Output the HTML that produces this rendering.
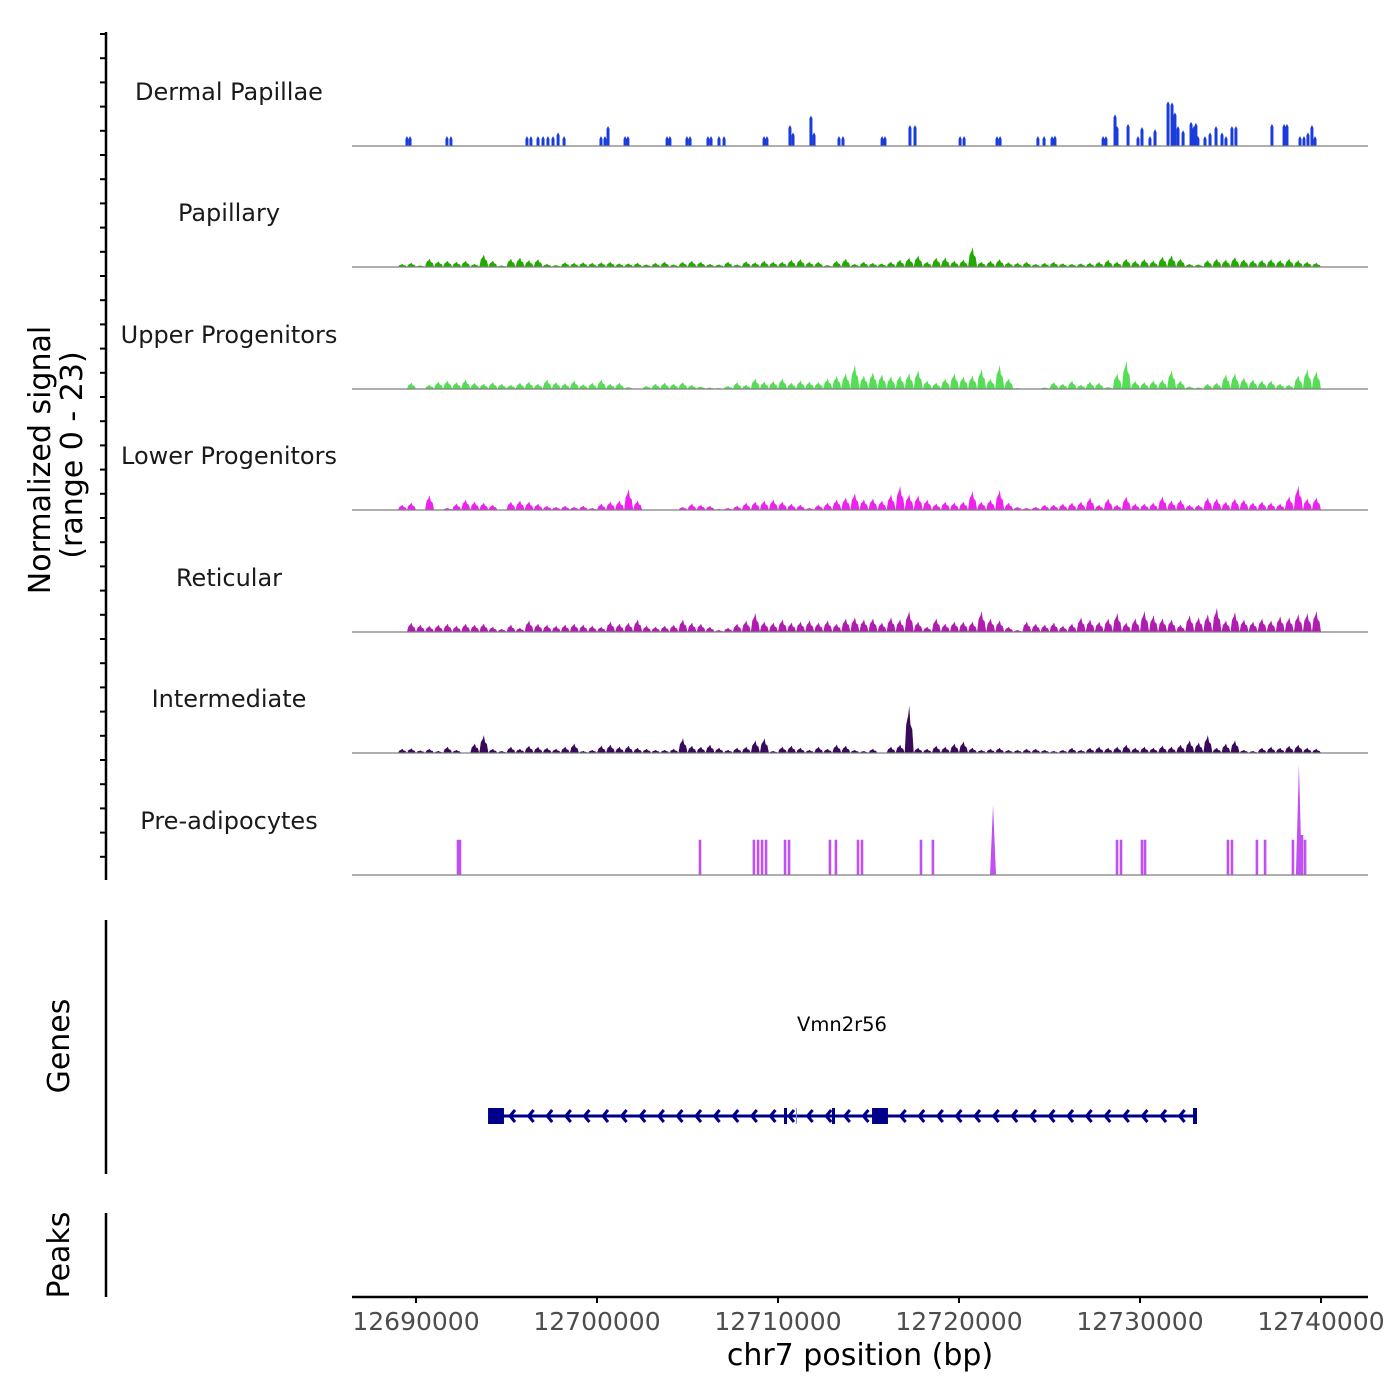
<!DOCTYPE html>
<html><head><meta charset="utf-8"><style>
html,body{margin:0;padding:0;background:#fff;}
svg{display:block;font-family:"DejaVu Sans","Liberation Sans",sans-serif;}
</style></head><body>
<svg id="chart" width="1400" height="1400" viewBox="0 0 1400 1400" xmlns="http://www.w3.org/2000/svg">
<rect width="1400" height="1400" fill="#fff"/>
<g id="tracks"></g>
<g id="leftaxis"></g>
<text transform="translate(50,460) rotate(-90)" text-anchor="middle" font-size="30" fill="#000">Normalized signal</text>
<text transform="translate(82,455) rotate(-90)" text-anchor="middle" font-size="30" fill="#000">(range 0 - 23)</text>
<line x1="106" y1="920" x2="106" y2="1174" stroke="#000" stroke-width="2.5"/>
<text transform="translate(69,1046) rotate(-90)" text-anchor="middle" font-size="30" fill="#000">Genes</text>
<line x1="106" y1="1213" x2="106" y2="1297" stroke="#000" stroke-width="2.5"/>
<text transform="translate(69,1255) rotate(-90)" text-anchor="middle" font-size="30" fill="#000">Peaks</text>
<g id="gene"></g>
<text x="842" y="1031" text-anchor="middle" font-size="19.5" fill="#000">Vmn2r56</text>
<g id="xaxis"></g>
<text x="860" y="1365" text-anchor="middle" font-size="30" fill="#000">chr7 position (bp)</text>
</svg>
<script>
// ---- data ----
const trackNames = ["Dermal Papillae","Papillary","Upper Progenitors","Lower Progenitors","Reticular","Intermediate","Pre-adipocytes"];
const trackColors = ["#1a3cdc","#22aa00","#55dd55","#ee22ee","#b01cb0","#3a0a5a","#c050f0"];
const xTicks = [12690000,12700000,12710000,12720000,12730000,12740000];
const xTickLabels = ["12690000","12700000","12710000","12720000","12730000","12740000"];
const binStart = 12689000;
const binSize = 500;
const dpPosKb = [-0.50,-0.33,1.71,1.93,6.13,6.35,6.74,7.02,7.29,7.57,7.85,8.18,10.22,10.44,10.61,11.55,11.71,13.87,14.03,14.97,15.14,16.13,16.30,16.74,17.02,19.23,19.39,20.66,20.83,21.82,21.99,23.37,23.59,25.75,25.91,27.29,27.57,30.06,30.28,32.10,32.27,34.36,34.70,35.14,35.30,37.96,38.12,38.62,38.73,39.34,39.89,40.11,40.55,40.83,41.55,41.77,41.93,42.10,42.38,42.82,42.98,43.09,43.20,43.59,43.87,44.20,44.53,44.75,45.08,45.30,47.29,47.96,48.12,48.84,49.06,49.28,49.50,49.67];
const dpVals = [1.9,1.9,1.9,1.9,1.9,1.9,1.9,1.9,1.9,1.9,2.6,1.9,1.9,1.9,3.8,1.9,1.9,1.9,1.9,1.9,1.9,1.9,1.9,1.9,1.9,1.9,1.9,4.0,2.6,5.8,2.6,1.9,1.9,1.9,1.9,4.0,4.0,1.9,1.9,1.9,1.9,1.9,1.9,1.9,2.0,1.9,1.9,6.0,3.8,4.2,1.9,3.6,1.9,3.2,8.5,8.3,6.4,3.8,3.0,4.6,3.8,4.4,1.9,1.9,2.6,3.8,2.6,1.9,3.8,3.8,4.2,4.2,4.2,1.9,1.9,2.6,4.0,1.9];
const paPosKb = [2.32,2.43,15.69,18.67,18.90,19.12,19.34,20.39,20.61,22.87,23.20,24.42,24.64,27.90,28.56,31.88,38.73,38.95,40.11,40.28,44.86,45.08,46.46,46.91,48.45,48.78,48.95,49.12];
const paVals = [6.7,6.7,6.7,6.7,6.7,6.7,6.7,6.7,6.7,6.7,6.7,6.7,6.7,6.7,6.7,13.3,6.7,6.7,6.7,6.7,6.7,6.7,6.7,6.7,6.7,21.0,7.6,6.7];
const papillary = [0.6,0.8,0.3,1.6,1.1,1.2,1.0,1.2,0.6,2.4,1.2,0.3,1.6,1.8,1.3,1.5,0.6,0.4,0.9,0.8,0.9,0.8,0.9,1.0,0.7,0.7,0.8,0.5,0.8,1.0,0.5,1.0,1.2,1.0,0.6,0.5,1.0,0.5,1.1,0.9,1.2,1.0,1.0,1.4,1.5,1.0,1.0,0.4,1.2,1.6,0.6,1.0,0.8,0.7,1.0,1.4,1.8,2.2,1.0,1.8,1.8,1.2,1.4,3.8,1.0,1.2,1.5,0.9,0.8,1.0,0.6,0.8,1.0,0.7,0.6,0.7,0.8,1.0,1.4,1.0,1.6,1.2,1.5,1.2,2.0,2.2,1.6,0.6,0.5,1.3,1.6,1.4,1.9,1.5,1.3,1.4,1.5,1.3,1.6,1.3,1.0,0.8];
const upper = [0,1.2,0,0.8,1.4,1.6,1.3,1.8,1.2,1.0,1.3,1.0,0.8,1.2,1.4,1.0,1.8,1.3,1.1,1.6,0.9,1.2,1.8,1.0,1.2,0.4,0,0.6,1.0,1.2,1.0,1.3,0.8,0.5,0.3,0.2,0.6,1.3,0.8,2.0,1.4,1.5,2.0,1.2,1.6,1.4,1.3,2.0,2.5,3.0,4.6,2.6,3.2,2.8,2.4,2.6,3.0,3.6,1.6,1.2,2.0,3.0,2.4,2.6,3.8,2.0,4.6,2.0,0.2,0,0,0.3,1.3,1.0,1.6,0.8,1.4,1.2,0.4,3.0,5.4,1.5,1.3,1.6,1.8,3.6,1.6,0.5,0.3,1.0,1.2,2.8,3.0,2.2,1.8,1.6,1.6,1.0,0.8,2.6,3.8,3.4];
const lower = [1.0,1.4,0,2.8,0,0.4,1.2,2.0,1.6,1.4,1.0,0,1.6,1.8,1.6,1.2,0.8,0.6,0.8,0.6,0.8,0.4,1.2,1.6,1.8,4.0,1.8,0,0,0,0,0.6,1.2,1.0,0.8,0.2,0.4,0.8,1.4,1.6,1.8,2.0,1.6,1.2,1.0,0.4,1.0,1.4,2.0,2.4,3.2,2.0,2.2,1.8,3.0,4.6,3.0,2.8,2.0,1.2,1.6,1.4,1.6,3.6,1.6,2.0,3.8,1.4,0.6,0.4,0.6,1.0,1.0,1.2,1.4,1.6,2.4,1.0,2.2,1.0,2.6,1.2,1.2,1.4,2.6,1.8,2.0,1.0,1.0,2.4,2.2,1.6,2.2,2.0,1.4,1.6,1.4,1.2,2.6,4.6,2.2,2.4];
const reticular = [0,1.8,1.4,1.2,1.4,1.6,1.2,1.6,1.4,1.6,1.0,0.6,1.4,0.8,2.2,1.6,1.4,1.2,1.4,1.6,1.4,1.2,1.0,2.0,1.6,1.8,2.4,1.2,1.0,1.2,1.4,2.4,1.8,1.6,1.0,0.4,0.8,1.6,2.2,3.6,2.0,1.8,2.4,1.8,2.0,2.2,1.8,2.2,1.6,2.6,2.8,2.4,2.6,1.8,2.8,2.4,4.0,2.0,1.0,2.6,1.6,2.0,2.0,2.0,4.0,2.6,2.2,1.0,0.4,2.0,1.6,1.4,1.8,1.2,1.6,2.8,2.4,2.0,2.6,3.6,1.8,2.6,4.0,3.2,2.6,2.4,1.4,3.2,2.8,3.4,4.6,2.2,3.8,2.4,2.0,2.6,2.2,3.0,2.8,3.4,3.6,4.0];
const intermediate = [0.8,0.9,0.5,0.8,0.4,1.2,0.6,0,1.8,3.4,0.8,0.4,1.2,0.8,1.4,1.2,1.0,0.8,1.2,1.8,0.4,0.6,1.4,1.6,1.2,1.4,1.0,0.8,0.6,0.6,0.8,2.8,1.4,1.2,1.6,1.0,0.6,1.0,1.2,2.4,2.8,0.4,1.2,1.4,1.0,0.6,1.2,0.8,1.6,1.4,0.6,0.4,0.8,0,1.2,1.6,9.0,1.0,0.8,1.4,1.2,1.8,2.2,1.0,0.6,0.8,1.0,0.6,0.6,0.8,0.8,0.6,0.4,0.6,1.0,0.6,1.0,1.2,1.0,1.2,1.6,1.0,1.2,1.0,1.4,1.2,1.6,2.4,2.0,3.4,1.0,1.8,2.4,0.6,0.4,1.0,1.2,1.0,1.4,1.6,1.0,0.8];
const binTracks = [null, papillary, upper, lower, reticular, intermediate, null];

// ---- scales ----
const X0 = 352, X1 = 1368;
const bpMin = 12686464, bpMax = 12742597;
function xScale(bp){ return X0 + (bp - bpMin) / (bpMax - bpMin) * (X1 - X0); }
const baselines = [146,267,389,510,632,753,875];
const pxPerUnit = 121 / 23;
function yScale(track, v){ return baselines[track] - v * pxPerUnit; }

const NS = "http://www.w3.org/2000/svg";
function mk(tag, attrs, parent){ const e = document.createElementNS(NS, tag); for (const k in attrs) e.setAttribute(k, attrs[k]); parent.appendChild(e); return e; }

const tracksG = document.getElementById("tracks");
trackNames.forEach((name, t) => {
  const g = mk("g", {}, tracksG);
  
  
  const lab = mk("text", {x:229, y: baselines[t] - 46, "text-anchor":"middle", "font-size":24, fill:"#1a1a1a"}, g);
  lab.textContent = name;
  
  
  const b = baselines[t];
  let d = "";
  const arr = binTracks[t];
  if (arr) {
    arr.forEach((v, i) => {
      const xa = xScale(binStart + i * binSize), xb = xScale(binStart + (i + 1) * binSize);
      const xm = (xa + xb) / 2, y = yScale(t, v), yh = yScale(t, v * 0.6);
      d += `M${xa},${b}L${xa+1.5},${yh}L${xm-1},${yScale(t, v*0.8)}L${xm},${y}L${xm+1.2},${yh}L${xb-1.5},${yScale(t, v*0.5)}L${xb},${b}Z`;
    });
  } else if (t === 0) {
    dpPosKb.forEach((k, i) => {
      const x = xScale(12690000 + k * 1000), y = yScale(t, dpVals[i]);
      d += `M${x-1.5},${b}L${x-1.5},${y+3}L${x},${y}L${x+1.5},${y+3}L${x+1.5},${b}Z`;
    });
  } else {
    paPosKb.forEach((k, i) => {
      const x = xScale(12690000 + k * 1000), y = yScale(t, paVals[i]);
      if (paVals[i] > 12) d += `M${x-3},${b}L${x},${y}L${x+3},${b}Z`;
      else d += `M${x-1.3},${b}L${x-1.3},${y}L${x+1.3},${y}L${x+1.3},${b}Z`;
    });
  }
  const p = mk("path", {d, fill: trackColors[t]}, g);
  
  
  const bl = mk("line", {x1:X0, x2:X1, y1:b, y2:b, stroke:"#7f7f7f", "stroke-width":1.2}, g);
  
  
});

// left axis
const la = document.getElementById("leftaxis");
mk("line", {x1:106, x2:106, y1:32, y2:880, stroke:"#000", "stroke-width":2.5}, la);
for (let y = 34; y <= 880; y += 24.2) mk("line", {x1:100, x2:106, y1:y, y2:y, stroke:"#000", "stroke-width":2}, la);

// gene
const gg = document.getElementById("gene");
const geneStart = 12694420, geneEnd = 12733039;
const exons = [[12693980,12694860],[12715195,12716075]];
const gy = 1116;
mk("line", {x1:xScale(geneStart), x2:xScale(geneEnd), y1:gy, y2:gy, stroke:"#00008b", "stroke-width":3}, gg);
for (let x = xScale(geneStart) + 14; x < xScale(geneEnd) - 4; x += 18.6) {
  mk("polyline", {points:`${x+5},${gy-6} ${x},${gy} ${x+5},${gy+6}`, fill:"none", stroke:"#00008b", "stroke-width":3}, gg);
}
exons.forEach(e => { const xa = xScale(e[0]), xb = xScale(e[1]); mk("rect", {x:xa, y:gy-8, width:xb-xa, height:16, fill:"#00008b"}, gg); });
mk("rect", {x:784, y:gy-8, width:3, height:16, fill:"#00008b"}, gg);
mk("rect", {x:796, y:gy-8, width:1, height:16, fill:"#8888cc"}, gg);
mk("rect", {x:832, y:gy-8, width:3, height:16, fill:"#00008b"}, gg);
mk("rect", {x:xScale(geneEnd)-2, y:gy-8, width:4, height:16, fill:"#00008b"}, gg);

// x axis
const xa = document.getElementById("xaxis");
mk("line", {x1:X0, x2:X1, y1:1297, y2:1297, stroke:"#000", "stroke-width":2.5}, xa);
xTicks.forEach((v, i) => {
  const x = xScale(v);
  mk("line", {x1:x, x2:x, y1:1297, y2:1303, stroke:"#000", "stroke-width":2}, xa);
  const t = mk("text", {x, y:1330, "text-anchor":"middle", "font-size":25, fill:"#4d4d4d"}, xa);
  t.textContent = xTickLabels[i];
  
  
});
</script>
</body></html>
